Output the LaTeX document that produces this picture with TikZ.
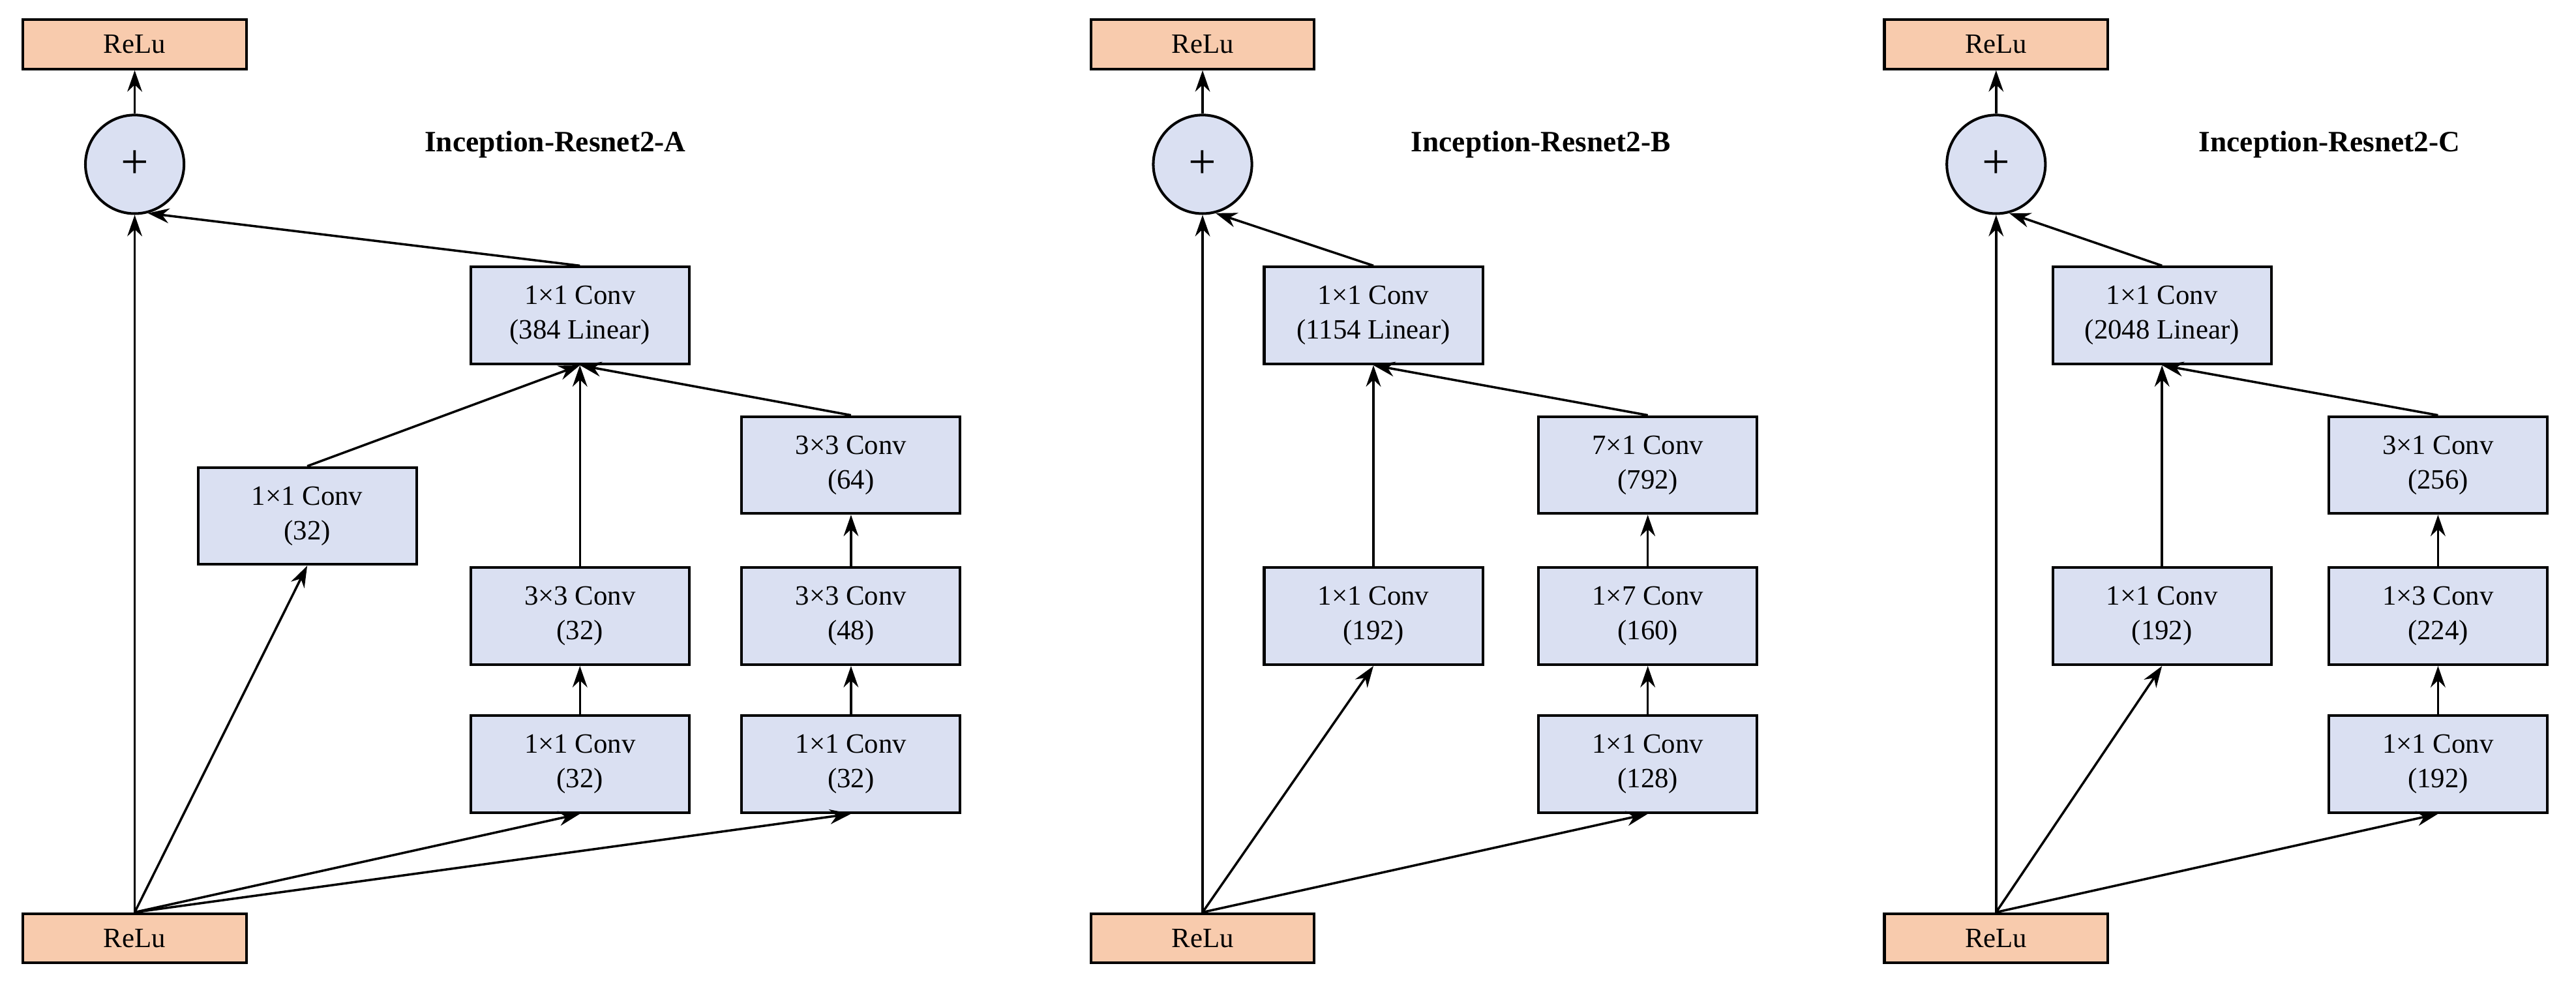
\documentclass[tikz,border=0pt]{standalone}
\usepackage{fontspec}
\setmainfont{Liberation Serif}
\usetikzlibrary{arrows.meta}
\definecolor{relu}{HTML}{F8CBAD}
\definecolor{conv}{HTML}{DAE0F2}
\begin{document}
\begin{tikzpicture}[x=1pt,y=-1pt,
  box/.style={draw,line width=1.6pt,fill=conv,minimum width=133pt,minimum height=59pt,align=center,font=\fontsize{17}{21}\selectfont,inner sep=0pt},
  rl/.style={draw,line width=1.6pt,fill=relu,minimum width=136pt,minimum height=30pt,font=\fontsize{17}{21}\selectfont,inner sep=0pt},
  pl/.style={draw,line width=1.6pt,fill=conv,circle,minimum size=60pt,inner sep=0pt,font=\fontsize{30}{30}\selectfont},
  ttl/.style={font=\bfseries\fontsize{18}{22}\selectfont},
  ar/.style={-{Stealth[length=13pt,width=9pt]},line width=1.4pt}]
\useasboundingbox (0,0) rectangle (1568,606);
% Panel A
\node[rl] (ra) at (82,27) {ReLu};
\node[pl] (pa) at (82,100) {+};
\node[ttl] (ta) at (338,88) {Inception-Resnet2-A};
\node[box] (ca) at (353,192) {1×1 Conv\\(384 Linear)};
\node[box] (a1) at (187,314) {1×1 Conv\\(32)};
\node[box] (a2) at (518,283) {3×3 Conv\\(64)};
\node[box] (a3) at (353,375) {3×3 Conv\\(32)};
\node[box] (a4) at (518,375) {3×3 Conv\\(48)};
\node[box] (a5) at (353,465) {1×1 Conv\\(32)};
\node[box] (a6) at (518,465) {1×1 Conv\\(32)};
\node[rl] (ba) at (82,571) {ReLu};
\draw[ar] (pa) -- (ra);
\draw[ar] (ba.north) -- (pa.south);
\draw[ar] (ca.north) -- (pa.-75);
\draw[ar] (ba.north) -- (a1.south);
\draw[ar] (ba.north) -- (a5.south);
\draw[ar] (ba.north) -- (a6.south);
\draw[ar] (a5) -- (a3);
\draw[ar] (a6) -- (a4);
\draw[ar] (a4) -- (a2);
\draw[ar] (a1.north) -- (ca.south);
\draw[ar] (a3.north) -- (ca.south);
\draw[ar] (a2.north) -- (ca.south);
% Panel B
\node[rl] (rb) at (732,27) {ReLu};
\node[pl] (pb) at (732,100) {+};
\node[ttl] (tb) at (938,88) {Inception-Resnet2-B};
\node[box] (cb) at (836,192) {1×1 Conv\\(1154 Linear)};
\node[box] (b1) at (836,375) {1×1 Conv\\(192)};
\node[box] (b2) at (1003,283) {7×1 Conv\\(792)};
\node[box] (b3) at (1003,375) {1×7 Conv\\(160)};
\node[box] (b4) at (1003,465) {1×1 Conv\\(128)};
\node[rl] (bb) at (732,571) {ReLu};
\draw[ar] (pb) -- (rb);
\draw[ar] (bb.north) -- (pb.south);
\draw[ar] (cb.north) -- (pb.-75);
\draw[ar] (bb.north) -- (b1.south);
\draw[ar] (bb.north) -- (b4.south);
\draw[ar] (b4) -- (b3);
\draw[ar] (b3) -- (b2);
\draw[ar] (b1.north) -- (cb.south);
\draw[ar] (b2.north) -- (cb.south);
% Panel C
\node[rl] (rc) at (1215,27) {ReLu};
\node[pl] (pc) at (1215,100) {+};
\node[ttl] (tc) at (1418,88) {Inception-Resnet2-C};
\node[box] (cc) at (1316,192) {1×1 Conv\\(2048 Linear)};
\node[box] (c1) at (1316,375) {1×1 Conv\\(192)};
\node[box] (c2) at (1484,283) {3×1 Conv\\(256)};
\node[box] (c3) at (1484,375) {1×3 Conv\\(224)};
\node[box] (c4) at (1484,465) {1×1 Conv\\(192)};
\node[rl] (bc) at (1215,571) {ReLu};
\draw[ar] (pc) -- (rc);
\draw[ar] (bc.north) -- (pc.south);
\draw[ar] (cc.north) -- (pc.-75);
\draw[ar] (bc.north) -- (c1.south);
\draw[ar] (bc.north) -- (c4.south);
\draw[ar] (c4) -- (c3);
\draw[ar] (c3) -- (c2);
\draw[ar] (c1.north) -- (cc.south);
\draw[ar] (c2.north) -- (cc.south);
\end{tikzpicture}
\end{document}
